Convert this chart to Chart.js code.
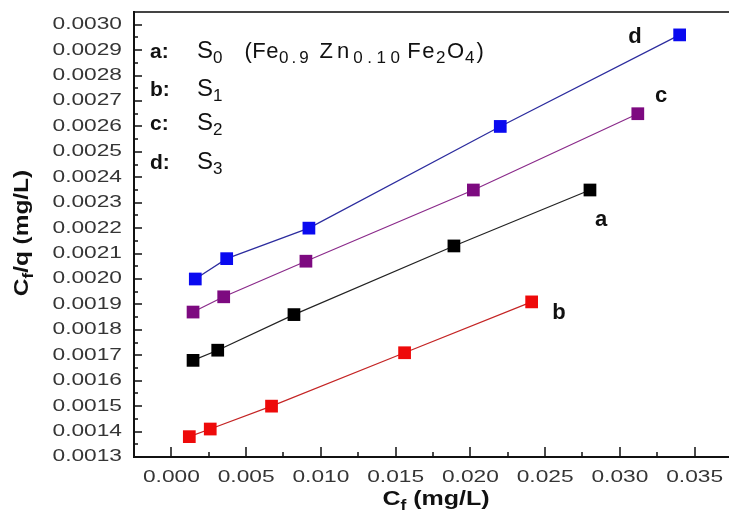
<!DOCTYPE html>
<html>
<head>
<meta charset="utf-8">
<script src="https://cdn.jsdelivr.net/npm/chart.js@4.4.0/dist/chart.umd.min.js"></script>
<style>
  html, body { margin: 0; padding: 0; background: #fff; }
  #wrap { width: 738px; height: 516px; }
</style>
</head>
<body>
<div id="wrap"><canvas id="isotherm" width="738" height="516"></canvas></div>
<script>
// Cf (mg/L) and Cf/q values for the four samples
const cfA = [0.00145, 0.0031, 0.0082, 0.0189, 0.0280];
const cqA = [0.00168, 0.00172, 0.00186, 0.00213, 0.00235];
const cfB = [0.0012, 0.0026, 0.0067, 0.0156, 0.0241];
const cqB = [0.00138, 0.00141, 0.00150, 0.00171, 0.00191];
const cfC = [0.00145, 0.0035, 0.0090, 0.0202, 0.0312];
const cqC = [0.00187, 0.00193, 0.00207, 0.00235, 0.00265];
const cfD = [0.0016, 0.0037, 0.0092, 0.0220, 0.0340];
const cqD = [0.00200, 0.00208, 0.00220, 0.00260, 0.00296];

const seriesTags = ['a', 'b', 'c', 'd'];
const sampleSubs = ['0', '1', '2', '3'];

const xTickLabels = ['0.000', '0.005', '0.010', '0.015', '0.020', '0.025', '0.030', '0.035'];
const yTickLabels = ['0.0013', '0.0014', '0.0015', '0.0016', '0.0017', '0.0018', '0.0019', '0.0020', '0.0021',
  '0.0022', '0.0023', '0.0024', '0.0025', '0.0026', '0.0027', '0.0028', '0.0029', '0.0030'];

const FONT = '"Liberation Sans", Arial, sans-serif';
const TICK_COLOR = '#353535';

function pts(xs, ys) {
  return xs.map((x, i) => ({ x: x, y: ys[i] }));
}

function series(label, xs, ys, lineColor, markColor) {
  return {
    label: label,
    data: pts(xs, ys),
    showLine: true,
    borderColor: lineColor,
    borderWidth: 1.2,
    backgroundColor: markColor,
    pointStyle: 'rect',
    pointRadius: 9,
    pointHoverRadius: 9,
    pointBorderWidth: 0,
    pointBackgroundColor: markColor
  };
}

// text squeezed/stretched horizontally by sx
function drawStretched(ctx, text, x, y, sx, align) {
  const w = ctx.measureText(text).width * sx;
  let x0 = x;
  if (align === 'right') x0 = x - w;
  else if (align === 'center') x0 = x - w / 2;
  ctx.save();
  ctx.translate(x0, y);
  ctx.scale(sx, 1);
  ctx.textAlign = 'left';
  ctx.fillText(text, 0, 0);
  ctx.restore();
}

// runs of text with their own font, baseline shift and letter spacing
function richWidth(ctx, parts) {
  let w = 0;
  for (const p of parts) {
    if (p.gap) { w += p.gap; continue; }
    ctx.font = p.font;
    w += ctx.measureText(p.t).width + (p.ls || 0) * p.t.length;
  }
  return w;
}

function drawRich(ctx, parts, x, y) {
  for (const p of parts) {
    if (p.gap) { x += p.gap; continue; }
    ctx.font = p.font;
    ctx.letterSpacing = '0px';
    const w = ctx.measureText(p.t).width + (p.ls || 0) * p.t.length;
    ctx.letterSpacing = (p.ls || 0) + 'px';
    ctx.fillText(p.t, x, y + (p.dy || 0));
    x += w;
  }
  ctx.letterSpacing = '0px';
}

const frame = {
  id: 'frame',
  beforeDatasetsDraw(chart) {
    const ctx = chart.ctx;
    const a = chart.chartArea;
    const xs = chart.scales.x;
    const ys = chart.scales.y;
    ctx.save();
    ctx.lineCap = 'butt';

    // top border
    ctx.strokeStyle = '#444';
    ctx.lineWidth = 2;
    ctx.beginPath();
    ctx.moveTo(a.left, a.top);
    ctx.lineTo(a.right, a.top);
    ctx.stroke();

    // left and bottom axes
    ctx.strokeStyle = '#111';
    ctx.beginPath();
    ctx.moveTo(a.left, a.top - 1);
    ctx.lineTo(a.left, a.bottom + 1);
    ctx.moveTo(a.left - 1, a.bottom);
    ctx.lineTo(a.right, a.bottom);
    ctx.stroke();

    // inward ticks
    ctx.lineWidth = 1.5;
    ctx.beginPath();
    xTickLabels.forEach(t => {
      const v = parseFloat(t);
      const px = Math.round(xs.getPixelForValue(v));
      ctx.moveTo(px, a.bottom);
      ctx.lineTo(px, a.bottom - 10);
      const pm = Math.round(xs.getPixelForValue(v + 0.0025));
      if (pm < a.right) {
        ctx.moveTo(pm, a.bottom);
        ctx.lineTo(pm, a.bottom - 5);
      }
    });
    yTickLabels.forEach(t => {
      const v = parseFloat(t);
      const py = Math.round(ys.getPixelForValue(v));
      ctx.moveTo(a.left, py);
      ctx.lineTo(a.left + 8, py);
      const pm = Math.round(ys.getPixelForValue(v + 0.00005));
      if (pm > a.top) {
        ctx.moveTo(a.left, pm);
        ctx.lineTo(a.left + 4, pm);
      }
    });
    ctx.stroke();

    // tick labels
    ctx.fillStyle = TICK_COLOR;
    ctx.font = '16px ' + FONT;
    ctx.textBaseline = 'middle';
    yTickLabels.forEach(t => {
      drawStretched(ctx, t, a.left - 12, ys.getPixelForValue(parseFloat(t)), 1.42, 'right');
    });
    xTickLabels.forEach(t => {
      drawStretched(ctx, t, xs.getPixelForValue(parseFloat(t)), a.bottom + 21, 1.42, 'center');
    });
    ctx.restore();
  },
  afterDraw(chart) {
    const ctx = chart.ctx;
    ctx.save();
    ctx.fillStyle = '#111';
    ctx.textBaseline = 'alphabetic';
    ctx.textAlign = 'left';

    // axis titles
    const bold = s => 'bold ' + s + 'px ' + FONT;
    const xTitle = [{ t: 'C', font: bold(20) }, { t: 'f', font: bold(14), dy: 5 }, { t: ' (mg/L)', font: bold(20) }];
    const yTitle = [{ t: 'C', font: bold(20) }, { t: 'f', font: bold(14), dy: 5 }, { t: '/q (mg/L)', font: bold(20) }];
    ctx.save();
    ctx.translate(436, 505);
    ctx.scale(1.25, 1);
    drawRich(ctx, xTitle, -richWidth(ctx, xTitle) / 2, 0);
    ctx.restore();
    ctx.save();
    ctx.translate(28, 233);
    ctx.rotate(-Math.PI / 2);
    ctx.scale(1.22, 1);
    drawRich(ctx, yTitle, -richWidth(ctx, yTitle) / 2, 0);
    ctx.restore();

    // sample key in the upper left
    const rowBase = [58, 96, 130, 169];
    const reg = s => s + 'px ' + FONT;
    seriesTags.forEach((tag, i) => {
      ctx.font = bold(21);
      ctx.fillText(tag + ':', 150, rowBase[i]);
      const parts = [{ t: 'S', font: reg(24) }, { t: sampleSubs[i], font: reg(17), dy: 5 }];
      if (i === 0) {
        parts.push(
          { gap: 22 },
          { t: '(Fe', font: reg(22), ls: 0.5 },
          { t: '0.9', font: reg(17), dy: 5, ls: 3 },
          { gap: 8 },
          { t: 'Zn', font: reg(22), ls: 4 },
          { t: '0.10', font: reg(17), dy: 5, ls: 4.5 },
          { gap: 3 },
          { t: 'Fe', font: reg(22), ls: 1.5 },
          { t: '2', font: reg(17), dy: 5, ls: 1.5 },
          { t: 'O', font: reg(22), ls: 1 },
          { t: '4', font: reg(17), dy: 5, ls: 2 },
          { t: ')', font: reg(22) }
        );
      }
      drawRich(ctx, parts, 197, rowBase[i]);
    });

    // curve tags next to the lines
    ctx.font = bold(22);
    ctx.textAlign = 'center';
    ctx.fillText('d', 635, 43);
    ctx.fillText('c', 661, 102);
    ctx.fillText('a', 601, 226);
    ctx.fillText('b', 559, 319);
    ctx.restore();
  }
};

new Chart(document.getElementById('isotherm'), {
  type: 'scatter',
  data: {
    datasets: [
      series('a', cfA, cqA, '#222222', '#000000'),
      series('b', cfB, cqB, '#c42424', '#ee0a0a'),
      series('c', cfC, cqC, '#8a2a8a', '#7d0a80'),
      series('d', cfD, cqD, '#2c2c9e', '#0a0af0')
    ]
  },
  options: {
    responsive: false,
    animation: false,
    layout: { padding: { left: 134, right: 0, top: 12, bottom: 59 } },
    plugins: { legend: { display: false }, tooltip: { enabled: false } },
    scales: {
      x: { type: 'linear', min: -0.0025, max: 0.0373, display: false },
      y: { type: 'linear', min: 0.0013, max: 0.00305, display: false }
    }
  },
  plugins: [frame]
});
</script>
</body>
</html>
